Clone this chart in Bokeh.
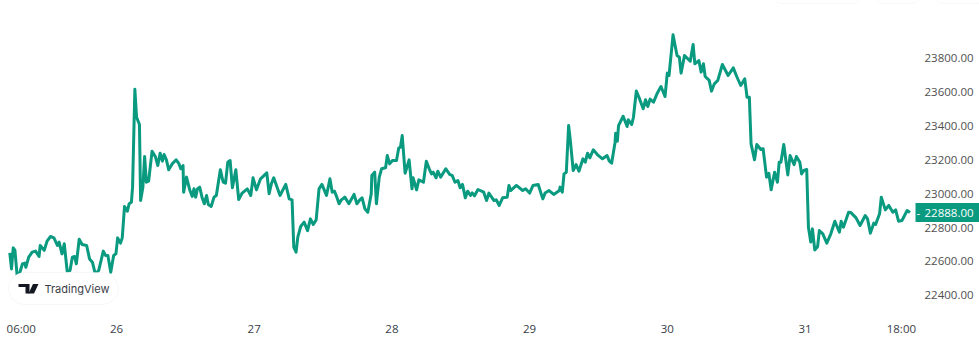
from bokeh.embed import file_html
from bokeh.resources import INLINE
from bokeh.plotting import figure
from bokeh.models import (FixedTicker, NumeralTickFormatter, Label, BoxAnnotation,
                          PolyAnnotation, Range1d)

# hours since day 26 00:00
hours = [-18.6,-18.3,-18.0,-17.7,-17.3,-17.0,-16.4,-16.0,-15.8,-15.3,-14.7,-14.1,-13.5,-13.3,-12.6,-12.1,-11.5,-10.9,-10.3,-10.0,
-9.5,-9.1,-8.6,-8.1,-7.7,-7.3,-7.0,-6.5,-6.0,-5.2,-4.7,-4.2,-3.7,-3.1,-2.3,-1.9,-1.5,-1.0,-0.5,-0.1,
0.2,0.7,1.0,1.4,1.9,2.2,2.6,2.8,3.2,3.5,4.0,4.2,4.6,4.9,5.2,5.6,6.2,6.8,7.2,7.6,
8.0,8.3,8.7,9.1,9.7,10.4,10.9,11.2,11.6,11.7,12.2,12.8,13.2,13.5,13.8,14.1,14.5,14.9,15.3,15.7,
16.0,16.5,17.0,17.4,18.1,18.6,19.0,19.4,19.8,20.2,20.8,21.3,21.9,22.8,23.4,23.8,24.4,25.1,26.2,26.6,
27.0,27.4,28.5,29.5,30.1,30.6,30.9,31.3,31.6,32.1,32.7,33.3,33.8,34.3,34.8,35.3,35.8,36.6,37.2,
37.6,38.0,38.4,38.8,39.2,39.8,40.5,41.4,41.9,42.4,42.8,43.3,43.8,44.4,44.5,45.0,45.3,45.8,46.2,46.9,
47.2,47.6,48.1,48.8,49.2,49.5,49.8,50.3,51.0,51.5,51.7,52.3,52.7,53.5,54.0,54.5,54.9,55.2,55.7,56.0,
56.5,57.4,58.1,58.5,59.0,59.5,59.9,60.3,60.8,61.2,61.7,62.0,62.4,63.0,64.0,64.5,64.9,65.8,66.2,66.7,
67.3,68.1,68.4,68.7,69.7,70.8,71.3,72.0,72.6,73.5,74.3,74.7,75.4,76.2,77.2,77.3,77.7,78.0,78.4,78.8,
79.1,79.6,80.1,80.6,81.3,81.7,82.1,82.5,83.1,83.8,84.7,85.5,85.9,86.3,86.9,87.0,87.3,87.5,88.3,89.0,
89.2,89.8,90.1,90.6,91.1,91.8,92.2,92.6,93.0,93.6,94.2,94.9,
95.6,96.0,96.3,97.0,97.3,97.7,98.1,98.4,99.0,100.0,100.5,100.8,101.5,101.9,102.3,102.6,103.3,103.7,104.2,104.8,
105.6,106.6,107.5,108.1,108.8,109.5,109.9,110.3,110.6,111.2,111.6,112.3,112.7,113.3,113.7,114.1,114.7,115.2,115.5,115.8,
116.3,117.0,117.4,118.1,118.5,119.1,119.4,119.8,120.3,120.6,121.0,121.3,121.7,122.2,122.5,123.1,123.8,124.5,125.2,126.0,
126.3,126.7,127.6,128.0,128.9,129.6,130.5,130.9,131.4,132.0,132.3,133.0,133.3,134.0,134.6,135.3,135.8,136.3,136.9,137.8,138.3]

prices = [22651,22556,22680,22665,22507,22517,22586,22590,22566,22625,22655,22661,22629,22694,22665,22720,22747,22739,22694,22714,
22645,22704,22543,22547,22625,22629,22586,22731,22700,22694,22615,22596,22527,22547,22661,22635,22635,22537,22635,22645,
22739,22708,22739,22924,22896,22940,22949,23038,23615,23450,23407,22959,23038,23219,23067,23073,23250,23215,23165,23238,
23191,23230,23199,23140,23175,23199,23175,23146,23165,23008,23097,23018,22983,23028,22979,23028,23038,22979,22940,22989,
22936,22924,22979,22989,23140,23067,23061,23185,23195,23034,23140,22965,23003,23028,22989,23093,23022,23087,23122,22999,
23058,23093,22989,23054,22969,22963,22684,22655,22743,22806,22832,22782,22851,22818,22845,23028,23054,22989,23087,
23008,23014,22979,22940,22963,22979,22940,22995,22940,22963,22975,22910,22890,22999,23107,23126,22940,23097,23146,23152,
23224,23175,23195,23195,23270,23274,23342,23120,23199,23028,23093,23022,23081,23067,23191,23146,23116,23126,23093,23132,
23097,23146,23112,23107,23067,23077,23034,23054,22975,23014,22989,23004,22987,23024,23008,22959,23003,22959,22963,22930,
22975,22979,23048,23018,23048,23018,23028,23003,23048,23054,22969,23003,23018,22995,23018,23038,23008,23116,23126,23401,
23313,23136,23171,23132,23205,23185,23238,23211,23258,23230,23205,23224,23191,23179,23303,23356,23309,23401,23456,23395,
23435,23407,23450,23604,23564,23500,23553,23513,23557,23539,23588,23631,
23572,23710,23696,23936,23883,23814,23804,23710,23814,23780,23879,23765,23784,23716,23765,23690,23667,23604,23647,23667,
23761,23696,23741,23690,23637,23676,23568,23568,23293,23199,23289,23260,23264,23097,23120,23022,23126,23067,23185,23185,
23289,23110,23224,23171,23219,23185,23116,23136,23142,22802,22714,22792,22668,22688,22782,22763,22708,22763,22837,22773,
22837,22802,22890,22888,22857,22812,22871,22851,22767,22826,22818,22881,22979,22904,22930,22890,22904,22837,22841,22900,22888]

price_ticks = [22400, 22600, 22800, 23000, 23200, 23400, 23600, 23800]
time_ticks = [-16.6, 0, 24, 48, 72, 96, 120, 136.8]
time_labels = ["06:00", "26", "27", "28", "29", "30", "31", "18:00"]
last_price = 22888
last_label = "22888.00"

W, H = 979, 354
TAG_LEFT, FRAME_H = 915, 315
HOURS_PER_PX = 24 / 137.7
X0 = -116 * HOURS_PER_PX
PRICE_TOP = 24138.0
PRICE_PER_PX = 5.8938

def hx(px):
    return X0 + px * HOURS_PER_PX

def py(px):
    return PRICE_TOP - px * PRICE_PER_PX

GREEN = "#0a9a80"

p = figure(width=W, height=H, output_backend="svg", toolbar_location=None,
           x_range=Range1d(hx(0), hx(W)), y_range=Range1d(py(FRAME_H), py(0)),
           y_axis_location="right", min_border_left=0, min_border_top=0,
           min_border_right=0, min_border_bottom=H - FRAME_H,
           outline_line_color=None, background_fill_color="white", border_fill_color="white")
p.grid.visible = False

p.line(hours, prices, line_color=GREEN, line_width=3, line_join="round")

for ax in (p.xaxis[0], p.yaxis[0]):
    ax.axis_line_color = None
    ax.major_tick_line_color = None
    ax.minor_tick_line_color = None
    ax.major_label_text_font = "Open Sans"
    ax.major_label_text_font_size = "11.5px"

p.xaxis[0].ticker = FixedTicker(ticks=time_ticks)
p.xaxis[0].major_label_overrides = {float(t) if t != int(t) else int(t): l for t, l in zip(time_ticks, time_labels)}
p.xaxis[0].major_label_text_color = "#3a3d47"
p.xaxis[0].major_label_standoff = 5
p.xaxis[0].major_tick_in = 0
p.xaxis[0].major_tick_out = 0

p.yaxis[0].ticker = FixedTicker(ticks=price_ticks)
p.yaxis[0].formatter = NumeralTickFormatter(format="0.00")
p.yaxis[0].major_label_text_color = "#505050"
p.yaxis[0].major_label_standoff = -55
p.yaxis[0].major_tick_in = 0
p.yaxis[0].major_tick_out = 0

# last price tag
p.add_layout(BoxAnnotation(left=hx(TAG_LEFT), right=hx(W), top=last_price + 9.5 * PRICE_PER_PX,
                           bottom=last_price - 9.5 * PRICE_PER_PX, fill_color=GREEN, fill_alpha=1,
                           line_color=None, level="overlay"))
p.add_layout(Label(x=hx(924), y=last_price, text=last_label, text_color="white",
                   text_font="Open Sans", text_font_size="11.5px",
                   text_align="left", text_baseline="middle", level="overlay"))
p.add_layout(Label(x=hx(TAG_LEFT + 1), y=last_price, text="-", text_color="white",
                   text_font="Open Sans", text_font_size="11.5px",
                   text_align="left", text_baseline="middle", level="overlay"))

# TradingView badge
p.add_layout(BoxAnnotation(left=hx(8), right=hx(118), top=py(272), bottom=py(304),
                           fill_color="white", fill_alpha=1, line_color="#e4e6ea", line_width=1,
                           border_radius=16, level="overlay"))
for xs, ys in [
    ([18, 29, 29, 25, 25, 22, 22, 18], [283.5, 283.5, 293, 293, 286.5, 286.5, 286.5, 286.5]),
    ([32.5, 38, 33.5, 28], [283.5, 283.5, 293, 293]),
]:
    p.add_layout(PolyAnnotation(xs=[hx(v) for v in xs], ys=[py(v) for v in ys],
                                fill_color="#131722", fill_alpha=1, line_color=None, level="overlay"))
p.add_layout(Label(x=hx(44), y=py(288), text="TradingView", text_color="#3a3d47",
                   text_font="Inter", text_font_size="11px", text_font_style="normal",
                   text_align="left", text_baseline="middle", level="overlay"))

# toolbar pills cut by the top edge
for l, r in [(773, 860), (875, 919), (935, 985)]:
    p.add_layout(BoxAnnotation(left=hx(l), right=hx(r), top=py(-20), bottom=py(3),
                               fill_color="white", fill_alpha=0, line_color="#e0e3eb", line_width=1,
                               border_radius=8))

open("out.html", "w").write(file_html(p, INLINE))
